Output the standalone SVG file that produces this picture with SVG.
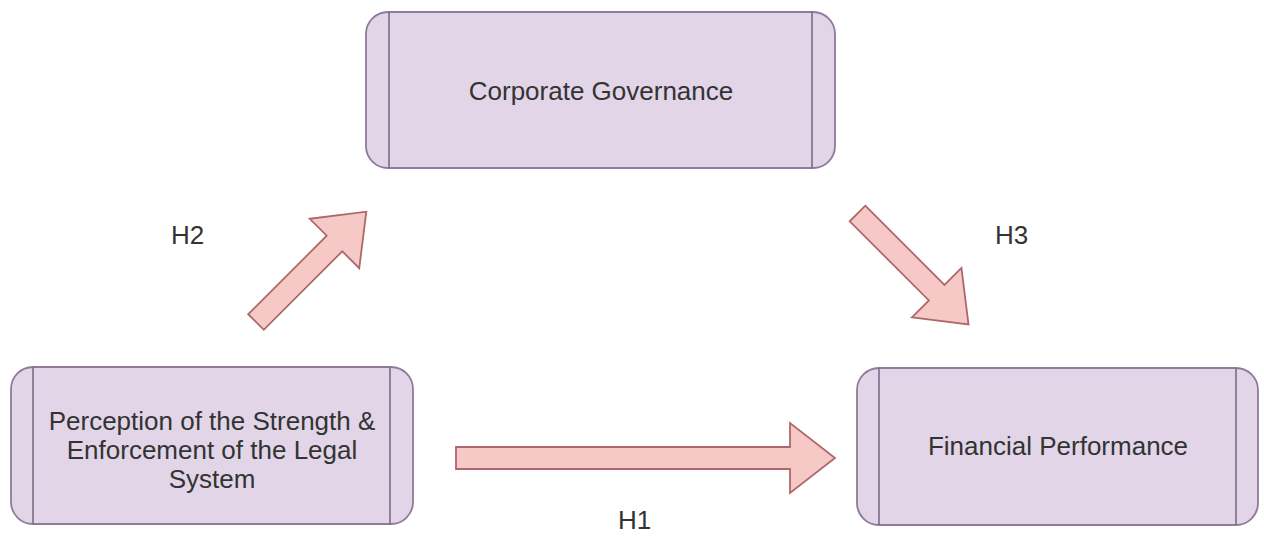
<svg xmlns="http://www.w3.org/2000/svg" width="1264" height="536" viewBox="0 0 1264 536">
  <style>
    .box { fill: #e1d5e7; stroke: #8f7a9a; stroke-width: 1.8; }
    .bar { stroke: #7d6a88; stroke-width: 1.6; }
    .lbl { font-family: "Liberation Sans", Arial, sans-serif; font-size: 26px; fill: #333333; }
    .mid { text-anchor: middle; }
    .arrow { fill: #f6c9c7; stroke: #b0676a; stroke-width: 1.8; stroke-linejoin: miter; }
  </style>
  <rect width="1264" height="536" fill="#ffffff"/>

  <!-- Process boxes: rounded rectangle with two inner vertical bars -->
  <g id="corporate-governance">
    <rect class="box" x="366" y="12" width="469" height="156" rx="22" ry="22"/>
    <line class="bar" x1="389" y1="12" x2="389" y2="168"/>
    <line class="bar" x1="812" y1="12" x2="812" y2="168"/>
    <text class="lbl mid" x="601" y="100">Corporate Governance</text>
  </g>

  <g id="legal-system">
    <rect class="box" x="11" y="367" width="402" height="157" rx="22" ry="22"/>
    <line class="bar" x1="33" y1="367" x2="33" y2="524"/>
    <line class="bar" x1="390" y1="367" x2="390" y2="524"/>
    <text class="lbl mid" x="212" y="430">Perception of the Strength &amp;</text>
    <text class="lbl mid" x="212" y="459">Enforcement of the Legal</text>
    <text class="lbl mid" x="212" y="488">System</text>
  </g>

  <g id="financial-performance">
    <rect class="box" x="857" y="368" width="401" height="157" rx="22" ry="22"/>
    <line class="bar" x1="879" y1="368" x2="879" y2="525"/>
    <line class="bar" x1="1236" y1="368" x2="1236" y2="525"/>
    <text class="lbl mid" x="1058" y="455">Financial Performance</text>
  </g>

  <!-- Block arrows for the hypotheses -->
  <g id="connectors">
    <!-- H1: legal system to financial performance -->
    <path class="arrow" transform="translate(456,458)" d="M0,-11 H334 V-35 L379,0 L334,35 V11 H0 Z"/>
    <!-- H2: legal system to corporate governance -->
    <path class="arrow" transform="translate(256,322) rotate(-45)" d="M0,-11 H111 V-35 L156,0 L111,35 V11 H0 Z"/>
    <!-- H3: corporate governance to financial performance -->
    <path class="arrow" transform="translate(857.5,213.5) rotate(45)" d="M0,-11 H112 V-35 L157,0 L112,35 V11 H0 Z"/>
    <text class="lbl" x="171" y="244">H2</text>
    <text class="lbl" x="995" y="244">H3</text>
    <text class="lbl" x="618" y="529">H1</text>
  </g>
</svg>
